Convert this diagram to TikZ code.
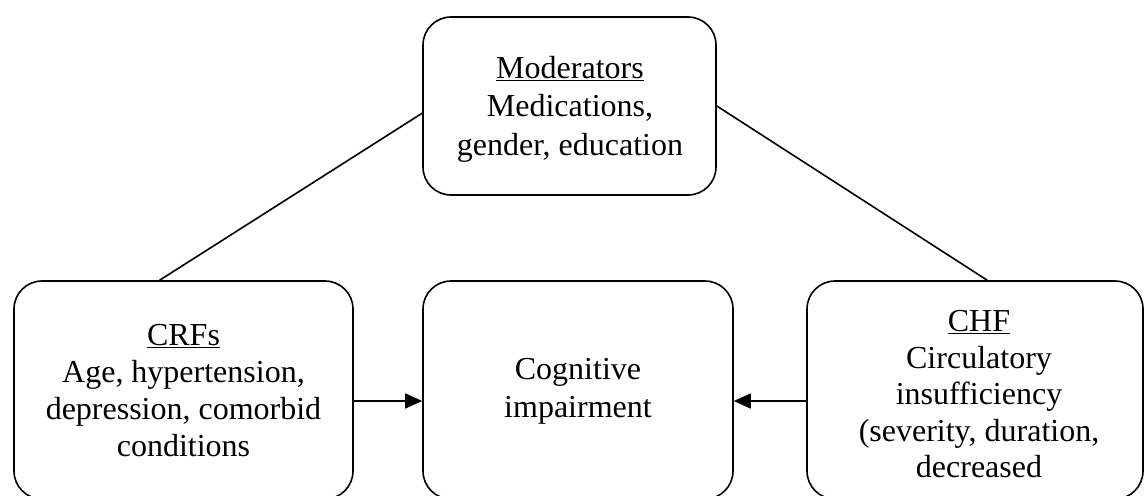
\documentclass[tikz,border=0pt]{standalone}
\usepackage{fontspec}
\setmainfont{Liberation Serif}
\usetikzlibrary{arrows.meta,calc}
\newcommand{\txtfont}[1]{\fontsize{32pt}{#1}\selectfont}
\begin{document}
\begin{tikzpicture}[x=1pt,y=-1pt,
  box/.style={draw,line width=1.6pt,rounded corners=28pt,inner sep=0pt},
  txt/.style={inner sep=0pt,align=center},
  link/.style={line width=1.6pt},
  arr/.style={line width=1.6pt,-{Triangle[length=17pt,width=15pt]}}]
\useasboundingbox (0,0) rectangle (1145,495);
\clip (0,0) rectangle (1145,495);
% boxes
\node[box,minimum width=293pt,minimum height=178pt] (mod) at (569.5,106) {};
\node[box,minimum width=339pt,minimum height=218pt] (crf) at (183.5,390) {};
\node[box,minimum width=310pt,minimum height=218pt] (cog) at (578,390) {};
\node[box,minimum width=336pt,minimum height=218pt] (chf) at (975,390) {};
% texts
\node[txt,font=\txtfont{38.5pt}] (modt) at (570,109) {\underline{Moderators}\\Medications,\\gender, education};
\node[txt,font=\txtfont{37pt}] (crft) at (183.5,391) {\underline{CRFs}\\Age, hypertension,\\depression, comorbid\\conditions};
\node[txt,font=\txtfont{38pt}] (cogt) at (578,391.5) {Cognitive\\impairment};
\node[txt,font=\txtfont{36.5pt}] (chft) at (979,394.5) {\underline{CHF}\\Circulatory\\insufficiency\\(severity, duration,\\decreased};
% connection points
\coordinate (ml) at ($(mod.north west)!0.54!(mod.south west)$);
\coordinate (mr) at ($(mod.north east)!0.5!(mod.south east)$);
\coordinate (ct) at ($(crf.north west)!0.43!(crf.north east)$);
\coordinate (ht) at ($(chf.north west)!0.536!(chf.north east)$);
\draw[link] (ml) -- (ct);
\draw[link] (mr) -- (ht);
\coordinate (ca) at (crf.east |- 0,401);
\coordinate (cb) at (cog.west |- 0,401);
\coordinate (cc) at (cog.east |- 0,401);
\coordinate (cd) at (chf.west |- 0,401);
\draw[arr] (ca) -- (cb);
\draw[arr] (cd) -- (cc);
\end{tikzpicture}
\end{document}
